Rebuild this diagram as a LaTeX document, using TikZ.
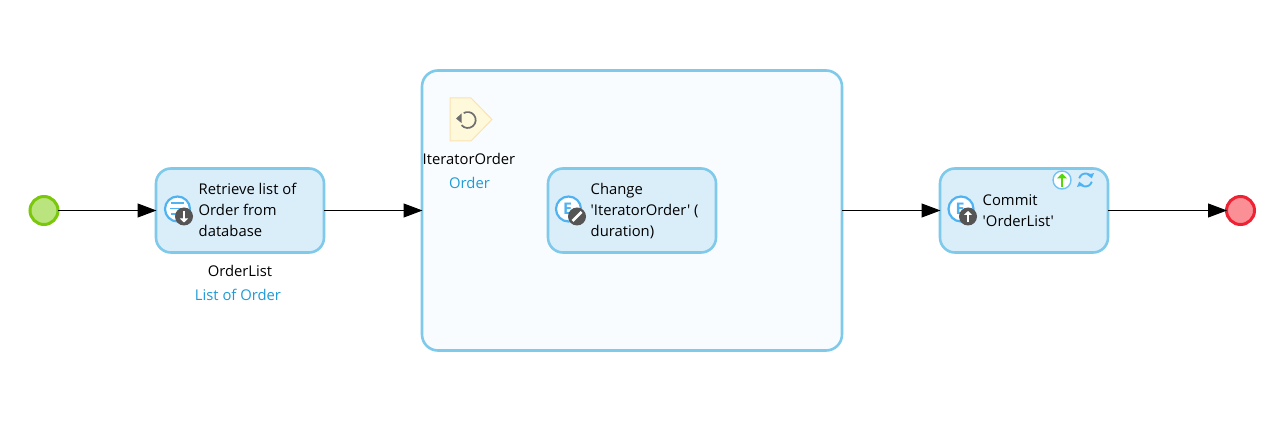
\documentclass[tikz,border=0pt]{standalone}
\usepackage{fontspec}
\newfontfamily\plainf{Open Sans}
\usetikzlibrary{arrows.meta}
\definecolor{boxedge}{HTML}{7FC9EA}
\definecolor{boxfill}{HTML}{DAEEFA}
\definecolor{loopfill}{HTML}{F8FCFE}
\definecolor{iconblue}{HTML}{4FB3F2}
\definecolor{badge}{HTML}{555555}
\definecolor{labelblue}{HTML}{1E9BD7}
\definecolor{startedge}{HTML}{7AC70C}
\definecolor{startfill}{HTML}{B9E47E}
\definecolor{endedge}{HTML}{EE2233}
\definecolor{endfill}{HTML}{FB8F96}
\definecolor{iterfill}{HTML}{FFF9DC}
\definecolor{iteredge}{HTML}{FBE3B0}
\tikzset{
  x=1pt,y=-1pt,
  txt/.style={font=\plainf\fontsize{14.8}{21}\selectfont,inner sep=0pt,text=black},
  action/.style={draw=boxedge,fill=boxfill,line width=2.6pt,rounded corners=15pt,minimum width=168pt,minimum height=84pt,inner sep=0pt,outer sep=0pt,anchor=center},
  event/.style={circle,line width=3pt,minimum size=28pt,inner sep=0pt,outer sep=0pt},
  flow/.style={draw=black,line width=1pt,shorten >=-0.5pt,-{Triangle[length=19pt,width=14pt]}},
  iconring/.style={circle,draw=iconblue,fill=white,line width=2.2pt,minimum size=25pt,inner sep=0pt},
  badgedot/.style={circle,fill=badge,minimum size=18pt,inner sep=0pt},
  badgemark/.style={draw=white,line width=1.8pt},
  efont/.style={text=iconblue,font=\plainf\fontsize{16}{16}\selectfont\bfseries,inner sep=0pt},
  synctip/.style={iconblue,line width=1.9pt,-{Triangle[length=4.5pt,width=7pt]}},
}
\begin{document}
\begin{tikzpicture}
\useasboundingbox (0,0) rectangle (1282,427);
\fill[white] (0,0) rectangle (1282,427);
% events
\node[event,draw=startedge,fill=startfill] (start) at (44,210.5) {};
\node[event,draw=endedge,fill=endfill] (stop) at (1240.5,210.5) {};
% boxes
\node[action] (retrieve) at (240,210.5) {};
\node[action,fill=loopfill,rounded corners=16pt,minimum width=420pt,minimum height=280pt] (loop) at (632,210.5) {};
\node[action] (change) at (632,210.5) {};
\node[action] (commit) at (1024,210.5) {};
% connectors
\draw[flow] (start) -- (retrieve);
\draw[flow] (retrieve) -- (loop);
\draw[flow] (loop) -- (commit);
\draw[flow] (commit) -- (stop);
% box texts
\node[txt,align=left,anchor=west] (t1) at (198.5,209.5) {Retrieve list of\\Order from\\database};
\node[txt,align=left,anchor=west] (t2) at (590.5,211.5) {Change\\'IteratorOrder' (\\duration)};
\node[txt,align=left,anchor=west] (t3) at (982.5,210.5) {Commit\\'OrderList'};
% labels
\node[txt] (l1) at (240,271) {OrderList};
\node[txt,text=labelblue] (l2) at (238,295) {List of Order};
\node[txt] (l3) at (469,159) {IteratorOrder};
\node[txt,text=labelblue] (l4) at (469.5,183) {Order};
% iterator icon
\draw[draw=iteredge,fill=iterfill,line width=1pt] (450,98) -- (471,98) -- (492,119.5) -- (471,141) -- (450,141) -- cycle;
\coordinate (ic) at (467.7,120);
\draw[draw=badge!85,line width=1.7pt] ([shift={(-140:8pt)}]ic) arc[start angle=-140,end angle=120,radius=8pt];
\fill[badge!85] (456,118.5) -- (461.5,113.5) -- (461.5,123) -- cycle;
% retrieve icon
\node[iconring] (i1) at (177.5,209) {};
\draw[iconblue,line width=1.7pt] (171,203) -- (184,203) (170,208.5) -- (185,208.5) (171,214) -- (180,214);
\node[badgedot] (b1) at (184,216.5) {};
\draw[badgemark,-{Triangle[length=4pt,width=8pt]}] (184,211) -- (184,222.5);
% change icon
\node[iconring] (i2) at (568.5,209) {};
\node[efont] (e2) at (567.5,209) {E};
\node[badgedot] (b2) at (577,216.5) {};
\draw[badgemark,line width=2.6pt] (572.5,221) -- (581.5,212);
% commit icon
\node[iconring] (i3) at (961,209) {};
\node[efont] (e3) at (960,209) {E};
\node[badgedot] (b3) at (968,216.5) {};
\draw[badgemark,-{Triangle[length=4pt,width=8pt]}] (968,222.5) -- (968,211);
% commit small icons
\node[circle,draw=iconblue!80,fill=white,line width=1.4pt,minimum size=18pt,inner sep=0pt] (s1) at (1062,180) {};
\draw[draw=startedge!70!green,line width=2.4pt,-{Triangle[length=5pt,width=10pt]}] (1062,187) -- (1062,173.5);
\coordinate (sc) at (1085.5,180);
\draw[synctip] ([shift={(165:6.5pt)}]sc) arc[start angle=165,end angle=15,radius=6.5pt];
\draw[synctip] ([shift={(-15:6.5pt)}]sc) arc[start angle=-15,end angle=-165,radius=6.5pt];
\end{tikzpicture}
\end{document}
